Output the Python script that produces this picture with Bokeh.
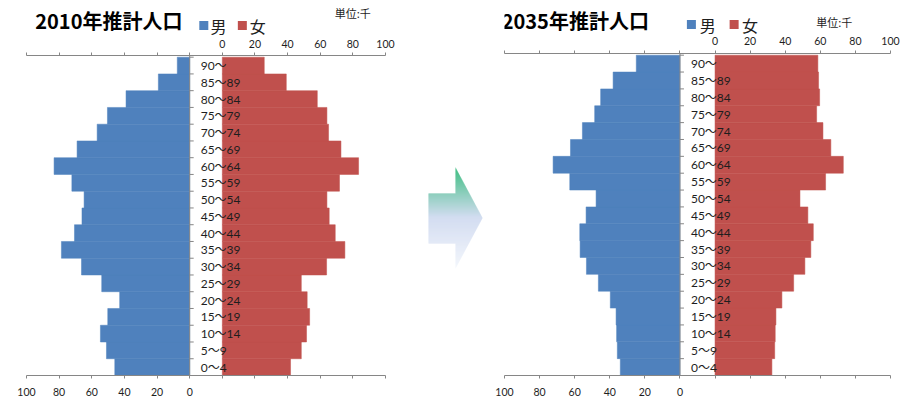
from bokeh.plotting import figure
from bokeh.models import (Range1d, LinearAxis, FixedTicker, ColumnDataSource, Span)
from bokeh.layouts import row, column
from bokeh.core.properties import value
from bokeh.embed import file_html
from bokeh.resources import INLINE

# Five-year age groups, youngest first (thousands of people)
ages = ["0～4", "5～9", "10～14", "15～19", "20～24", "25～29", "30～34",
        "35～39", "40～44", "45～49", "50～54", "55～59", "60～64", "65～69",
        "70～74", "75～79", "80～84", "85～89", "90～"]

male_2010 = [45.9, 51.0, 54.7, 50.2, 42.9, 53.9, 66.3, 78.6, 70.6, 66.0,
             64.7, 72.2, 83.1, 69.0, 56.7, 50.4, 39.0, 19.2, 7.6]
female_2010 = [41.8, 48.4, 51.6, 53.5, 52.0, 48.4, 63.9, 75.1, 69.2, 65.5,
               64.1, 71.8, 83.5, 72.7, 65.1, 64.1, 58.2, 39.2, 25.7]

male_2035 = [34.0, 35.7, 36.1, 36.4, 39.7, 46.5, 53.3, 56.9, 57.1, 53.5,
             47.8, 62.8, 72.3, 62.4, 55.6, 48.6, 45.2, 38.1, 24.9]
female_2035 = [32.4, 34.0, 34.3, 34.7, 38.1, 44.8, 51.2, 54.6, 56.0, 52.9,
               48.4, 63.0, 73.1, 66.0, 61.5, 57.9, 59.6, 59.0, 58.6]

axis_values = [0, 20, 40, 60, 80, 100]
sexes = ["男", "女"]

BLUE = "#4F81BD"
RED = "#C0504D"
GREY = "#868686"
TXT = "#1E1E1E"
JP = "Noto Sans CJK JP"
NUM = "Lato, 'Noto Sans CJK JP'"

GAP = 10          # half of the centre band holding the age labels
TOP = 19.1        # a little head-room above the oldest group
HEAD_H = 40       # height of the header strips


def blank(width, height, xr, yr, transparent=False):
    p = figure(width=width, height=height, x_range=Range1d(*xr),
               y_range=Range1d(*yr), x_axis_location=None,
               y_axis_location=None, toolbar_location=None,
               output_backend="svg", min_border=0)
    p.outline_line_color = None
    p.grid.visible = False
    if transparent:
        p.background_fill_alpha = 0
        p.border_fill_alpha = 0
    return p


def header(title, width, x0, title_x, swatch_x, label_x, sw_y, unit_x, unit_y):
    """Title, legend and unit note sitting above a pyramid."""
    h = blank(width, HEAD_H, (x0, x0 + width), (HEAD_H, 0), transparent=True)
    h.text(x=[title_x], y=[19.5], text=[title], text_font=value(JP),
           text_font_style="bold", text_font_size="20px", text_color="black",
           text_baseline="middle", text_align="left")
    h.rect(x=swatch_x, y=[sw_y] * 2, width=9, height=9, width_units="screen",
           height_units="screen", fill_color=[BLUE, RED], line_color=None)
    h.text(x=label_x, y=[sw_y] * 2, text=sexes, text_font=value(JP),
           text_font_size="16px", text_color=TXT, text_baseline="middle",
           text_align="left")
    h.text(x=[unit_x], y=[unit_y], text=["単位:千"], text_font=value(JP),
           text_font_size="11px", text_color=TXT, text_baseline="middle",
           text_align="left")
    return h


def pyramid(male, female, width, height, bl, br, bt, bb, top_standoff, lift):
    p = figure(width=width, height=height,
               x_range=Range1d(-(GAP + 100), GAP + 100),
               y_range=Range1d(0, TOP),
               x_axis_location=None, y_axis_location=None,
               toolbar_location=None, output_backend="svg",
               min_border_left=bl, min_border_right=br,
               min_border_top=bt, min_border_bottom=bb,
               margin=(-lift, 0, 0, 0))
    p.outline_line_color = None
    p.grid.visible = False
    p.border_fill_alpha = 0

    n = len(ages)
    src = ColumnDataSource(dict(
        y=[i + 0.5 for i in range(n)],
        age=ages,
        m_left=[-(GAP + v) for v in male],
        m_right=[-GAP] * n,
        f_left=[GAP] * n,
        f_right=[GAP + v for v in female],
    ))

    p.hbar(y="y", height=1.0, left="m_left", right="m_right", source=src,
           fill_color=BLUE, line_color=BLUE, line_width=0.5)
    p.hbar(y="y", height=1.0, left="f_left", right="f_right", source=src,
           fill_color=RED, line_color=RED, line_width=0.5)

    # value axes: female scale on top, male scale (reversed) at the bottom
    ticks = [-(GAP + v) for v in reversed(axis_values)] + [GAP + v for v in axis_values]
    top_labels = {-(GAP + v): "" for v in axis_values}
    top_labels.update({GAP + v: str(v) for v in axis_values})
    bot_labels = {GAP + v: "" for v in axis_values}
    bot_labels.update({-(GAP + v): str(v) for v in axis_values})

    for loc, labels, standoff in (("above", top_labels, top_standoff),
                                  ("below", bot_labels, 9)):
        ax = LinearAxis(ticker=FixedTicker(ticks=ticks, minor_ticks=[]),
                        major_label_overrides=labels)
        ax.axis_line_color = GREY
        ax.major_tick_line_color = GREY
        ax.minor_tick_line_color = None
        ax.major_tick_in = 0
        ax.major_tick_out = 3
        ax.major_label_standoff = standoff
        ax.major_label_text_font = NUM
        ax.major_label_text_font_size = "10.5px"
        ax.major_label_text_color = TXT
        p.add_layout(ax, loc)

    # category axis along the male zero line
    p.add_layout(Span(location=-GAP, dimension="height",
                      line_color=GREY, line_width=1))
    p.ray(x=[-GAP] * (n + 1), y=list(range(n + 1)), length=4,
          length_units="screen", angle=0, line_color=GREY, line_width=1)
    p.text(x=-GAP, y="y", text="age", source=src, x_offset=11,
           text_align="left", text_baseline="middle",
           text_font=value(NUM), text_font_size="12px", text_color=TXT)
    return p


# left pyramid begins 34 px down the page, the right one 31 px down
head_l = header("2010年推計人口", 410, 0, 10, [202.5, 246.5], [210, 255],
                25, 352, 12.5)
left = pyramid(male_2010, female_2010, 410, 372, 26, 25, 21, 31, 5,
               HEAD_H - 34)

head_r = header("2035年推計人口", 411, 490, 487, [689, 734.5], [698, 743],
                24, 822, 21.5)
right = pyramid(male_2035, female_2035, 411, 375, 14, 11, 22, 31, 6,
                HEAD_H - 31)

# transition arrow between the two pyramids, filled with a vertical gradient
mid = blank(80, 406, (410, 490), (406, 0))

shaft_x0, head_x0, tip_x = 428, 455, 482
shaft_y0, shaft_y1 = 193, 243
head_y0, head_y1 = 167, 268
tip_y = (head_y0 + head_y1) / 2
stops = [(head_y0, (0, 168, 89)), (217, (196, 209, 236)), (head_y1, (240, 244, 251))]


def grad(yy):
    for (ya, ca), (yb, cb) in zip(stops[:-1], stops[1:]):
        if ya <= yy <= yb:
            t = (yy - ya) / (yb - ya)
            c = [round(a + (b - a) * t) for a, b in zip(ca, cb)]
            return "#%02x%02x%02x" % tuple(c)
    return "#%02x%02x%02x" % stops[-1][1]


rows = dict(left=[], right=[], top=[], bottom=[], color=[])
half = (head_y1 - head_y0) / 2
y = head_y0
while y < head_y1:
    yc = y + 0.5
    lft = shaft_x0 if shaft_y0 <= yc <= shaft_y1 else head_x0
    rgt = head_x0 + (tip_x - head_x0) * (1 - abs(yc - tip_y) / half)
    rows["left"].append(lft)
    rows["right"].append(rgt)
    rows["top"].append(y)
    rows["bottom"].append(y + 1)
    rows["color"].append(grad(yc))
    y += 1
mid.quad(left="left", right="right", top="top", bottom="bottom",
         color="color", source=ColumnDataSource(rows), line_color=None)

layout = row(column(head_l, left), mid, column(head_r, right))
open("out.html", "w").write(file_html(layout, INLINE))
